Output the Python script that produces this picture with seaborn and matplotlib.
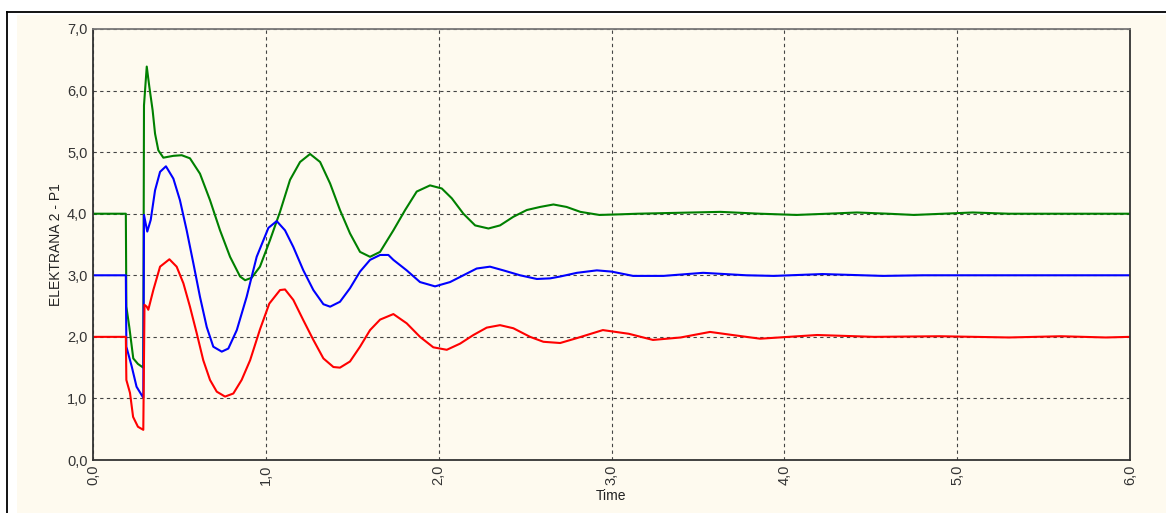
import matplotlib
matplotlib.use("Agg")
import matplotlib.pyplot as plt
import seaborn as sns
from matplotlib.patches import Rectangle
from matplotlib.lines import Line2D
from matplotlib.ticker import FuncFormatter

# values
t_green = [0, 0.19, 0.193, 0.21, 0.233, 0.26, 0.291, 0.295,
           0.311, 0.326, 0.345, 0.359, 0.378, 0.407,
           0.465, 0.513, 0.561, 0.619, 0.677, 0.735, 0.793, 0.851, 0.880, 0.918,
           0.966, 1.024, 1.082, 1.140, 1.198, 1.256, 1.314, 1.372, 1.429, 1.487,
           1.545, 1.603, 1.661, 1.738, 1.806, 1.873, 1.950, 2.018, 2.076, 2.143,
           2.211, 2.288, 2.355, 2.432, 2.510, 2.587, 2.664, 2.74, 2.82, 2.93,
           3.05, 3.15, 3.63, 3.86, 4.07, 4.25, 4.42, 4.6, 4.75, 4.92,
           5.09, 5.3, 6.0]
v_green = [4.0, 4.0, 2.49, 2.16, 1.65, 1.56, 1.50, 5.76,
           6.39, 6.06, 5.68, 5.30, 5.03, 4.91,
           4.94, 4.95, 4.90, 4.65, 4.22, 3.73, 3.30, 2.98, 2.92, 2.96,
           3.14, 3.57, 4.03, 4.55, 4.84, 4.97, 4.84, 4.49, 4.06, 3.68,
           3.38, 3.30, 3.38, 3.73, 4.06, 4.36, 4.46, 4.41, 4.25, 4.00,
           3.81, 3.76, 3.81, 3.95, 4.06, 4.11, 4.15, 4.11, 4.03, 3.98,
           3.99, 4.0, 4.03, 4.0, 3.98, 4.0, 4.02, 4.0, 3.98, 4.0,
           4.02, 4.0, 4.0]

t_blue = [0, 0.19, 0.193, 0.224, 0.252, 0.291, 0.295,
          0.314, 0.334, 0.359, 0.388, 0.422, 0.465, 0.503, 0.542, 0.581, 0.619,
          0.658, 0.696, 0.745, 0.783, 0.832, 0.889, 0.947, 1.015, 1.063, 1.111,
          1.159, 1.217, 1.275, 1.333, 1.372, 1.429, 1.487, 1.545, 1.603, 1.661,
          1.709, 1.738, 1.815, 1.892, 1.979, 2.066, 2.143, 2.220, 2.297, 2.374,
          2.471, 2.568, 2.645, 2.703, 2.80, 2.915, 3.0, 3.125, 3.3, 3.53,
          3.78, 3.94, 4.22, 4.57, 4.8, 6.0]
v_blue = [3.0, 3.0, 1.84, 1.52, 1.19, 1.01, 3.98,
          3.71, 3.90, 4.38, 4.68, 4.77, 4.57, 4.22, 3.73, 3.19, 2.65,
          2.16, 1.84, 1.76, 1.81, 2.11, 2.65, 3.30, 3.77, 3.88, 3.73,
          3.46, 3.08, 2.76, 2.53, 2.49, 2.57, 2.79, 3.06, 3.25, 3.33,
          3.33, 3.25, 3.08, 2.89, 2.82, 2.89, 3.0, 3.11, 3.14, 3.08,
          3.0, 2.94, 2.95, 2.98, 3.04, 3.08, 3.06, 2.99, 2.99, 3.04,
          3.0, 2.99, 3.02, 2.99, 3.0, 3.0]

t_red = [0, 0.19, 0.193, 0.214, 0.232, 0.26, 0.291, 0.298,
         0.311, 0.320, 0.349, 0.388, 0.442, 0.484, 0.523, 0.561, 0.600, 0.638,
         0.677, 0.716, 0.764, 0.812, 0.860, 0.909, 0.966, 1.020, 1.082, 1.111,
         1.159, 1.217, 1.275, 1.333, 1.391, 1.429, 1.487, 1.545, 1.603, 1.661,
         1.738, 1.815, 1.892, 1.969, 2.047, 2.124, 2.201, 2.278, 2.355, 2.432,
         2.529, 2.606, 2.703, 2.80, 2.95, 3.1, 3.24, 3.4, 3.57, 3.7,
         3.86, 4.19, 4.52, 4.9, 5.3, 5.6, 5.86, 6.0]
v_red = [2.0, 2.0, 1.30, 1.09, 0.70, 0.54, 0.49, 2.52,
         2.49, 2.44, 2.76, 3.14, 3.26, 3.14, 2.87, 2.49, 2.06, 1.62,
         1.30, 1.11, 1.03, 1.08, 1.30, 1.62, 2.12, 2.54, 2.76, 2.77,
         2.60, 2.27, 1.95, 1.65, 1.51, 1.50, 1.60, 1.84, 2.11, 2.28,
         2.37, 2.22, 2.00, 1.83, 1.79, 1.89, 2.03, 2.15, 2.19, 2.14,
         2.00, 1.92, 1.90, 1.98, 2.11, 2.05, 1.95, 1.99, 2.08, 2.03,
         1.97, 2.03, 2.0, 2.01, 1.99, 2.01, 1.99, 2.0]

x_ticks = [0, 1, 2, 3, 4, 5, 6]
y_ticks = [0, 1, 2, 3, 4, 5, 6, 7]

cream = "#FEFAEF"
plt.rcParams["font.family"] = ["Liberation Sans", "DejaVu Sans"]

fig = plt.figure(figsize=(11.66, 5.13), dpi=100, facecolor="white")
W, H = 1166, 513
# outer cream panel and black frame (kept behind the axes)
fig.patches.append(Rectangle((17 / W, 0), 1, 1 - 15 / H, transform=fig.transFigure,
                             facecolor=cream, edgecolor="none", zorder=-10))
fig.lines.append(Line2D([7 / W, 7 / W], [0, 1 - 12 / H], transform=fig.transFigure,
                        color="black", lw=1.3, zorder=-5))
fig.lines.append(Line2D([7 / W, 1], [1 - 12 / H, 1 - 12 / H], transform=fig.transFigure,
                        color="black", lw=1.3, zorder=-5))

ax = fig.add_axes([93 / W, 1 - 460 / H, (1130 - 93) / W, (460 - 29) / H])
ax.set_zorder(5)
ax.set_facecolor(cream)

for tt, vv, col in [(t_green, v_green, "#008000"), (t_blue, v_blue, "#0000FF"),
                    (t_red, v_red, "#FF0000")]:
    sns.lineplot(x=tt, y=vv, color=col, lw=1.5, sort=False, estimator=None, ax=ax)

ax.set_xlim(0, 6)
ax.set_ylim(0, 7)
ax.set_xticks(x_ticks)
ax.set_yticks(y_ticks)
fmt = FuncFormatter(lambda v, _: f"{v:.1f}".replace(".", ","))
ax.xaxis.set_major_formatter(fmt)
ax.yaxis.set_major_formatter(fmt)
ax.tick_params(axis="y", length=0, labelsize=10.5, colors="#333333", pad=4)
ax.tick_params(axis="x", length=0, labelsize=10.5, colors="#333333", pad=3)
for lab in ax.get_xticklabels():
    lab.set_rotation(90)
ax.grid(True, color="#444444", lw=0.8, linestyle=(0, (3, 3)))
ax.set_axisbelow(True)

for side in ["left", "bottom", "right"]:
    ax.spines[side].set_color("#333333")
    ax.spines[side].set_linewidth(1.3)
ax.spines["top"].set_color("#777777")
ax.spines["top"].set_linewidth(1.3)

ax.set_ylabel("ELEKTRANA 2 - P1", fontsize=10, color="#222222", labelpad=3)
ax.set_xlabel("Time", fontsize=10, color="#222222", labelpad=3)

fig.savefig("out.png", dpi=100, facecolor="white")
